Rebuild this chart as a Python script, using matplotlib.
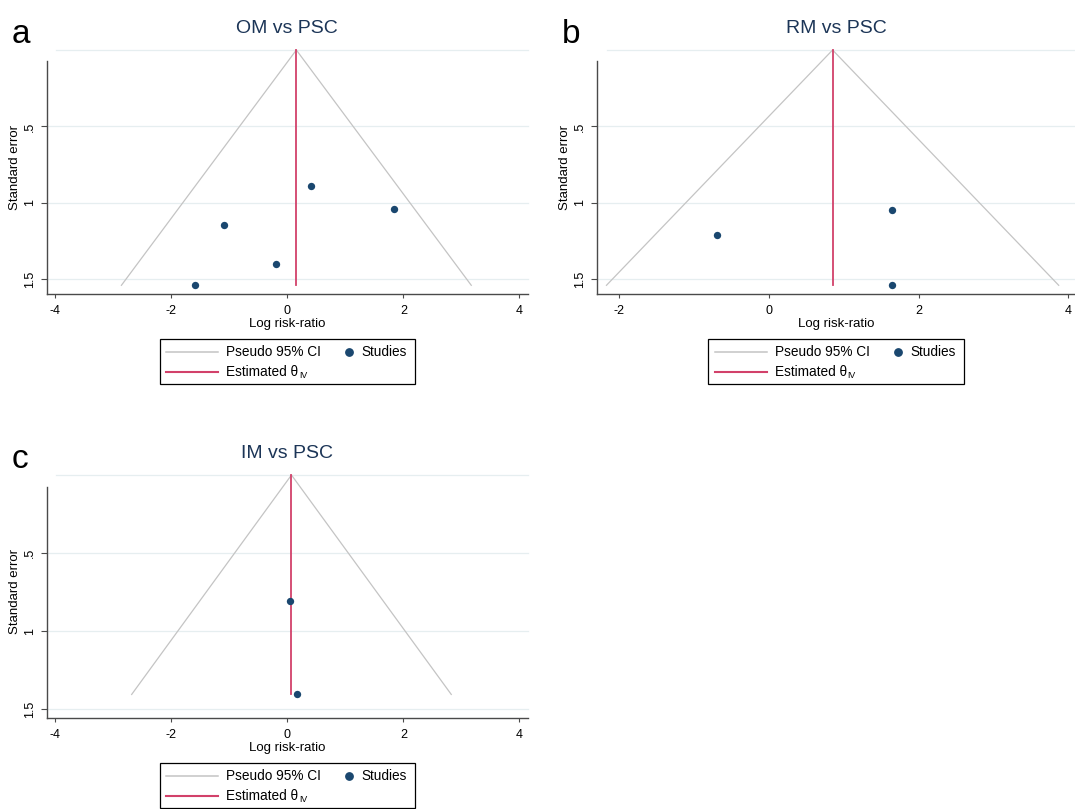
import matplotlib
matplotlib.use("Agg")
import matplotlib.pyplot as plt
from matplotlib.lines import Line2D
from matplotlib.patches import Rectangle

plt.rcParams["font.family"] = ["Liberation Sans", "DejaVu Sans"]
plt.rcParams["axes.unicode_minus"] = False

# funnel plot data: log risk-ratio and standard error per study, plus pooled IV estimate
OM_LOGRR = [0.404, 1.842, -1.10, -0.19, -1.60]
OM_SE = [0.887, 1.038, 1.145, 1.402, 1.539]
OM_THETA = 0.155

RM_LOGRR = [1.65, -0.695, 1.65]
RM_SE = [1.048, 1.210, 1.539]
RM_THETA = 0.853

IM_LOGRR = [0.042, 0.16]
IM_SE = [0.809, 1.406]
IM_THETA = 0.071

XTICKS_WIDE = [-4, -2, 0, 2, 4]
XTICKS_B = [-2, 0, 2, 4]
YTICKS = [0.5, 1, 1.5]
YTICKLABELS = [".5", "1", "1.5"]
GRID_SE = [0, 0.5, 1, 1.5]

NAVY, TITLE_C, CI_C, EST_C, GRID_C, AXIS_C = "#1a476f", "#1c3557", "#c4c4c4", "#d2416a", "#e6eef0", "#4a4a4a"
W, H = 1075, 809

fig = plt.figure(figsize=(W / 100, H / 100), dpi=100, facecolor="white")


def fx(x):
    return x / W


def fy(y):
    return 1 - y / H


def add_panel(left, top, right, bottom):
    return fig.add_axes([fx(left), fy(bottom), (right - left) / W, (bottom - top) / H])


def stata_legend(ax, cx, by):
    fig.add_artist(Rectangle((fx(cx - 127.5), fy(by + 90)), 255.5 / W, 44.7 / H,
                             transform=fig.transFigure, fill=False, ec="black", lw=0.9))
    r1, r2 = by + 58.3, by + 77.7
    fig.add_artist(Line2D([fx(cx - 121.5), fx(cx - 69.5)], [fy(r1)] * 2, color=CI_C, lw=1.1,
                          transform=fig.transFigure))
    fig.text(fx(cx - 61), fy(r1), "Pseudo 95% CI", va="center", ha="left", fontsize=9.8)
    fig.add_artist(Line2D([fx(cx + 62)], [fy(r1)], marker="o", ms=5.3, color=NAVY, ls="none",
                          transform=fig.transFigure))
    fig.text(fx(cx + 74), fy(r1), "Studies", va="center", ha="left", fontsize=9.8)
    fig.add_artist(Line2D([fx(cx - 121.5), fx(cx - 69.5)], [fy(r2)] * 2, color=EST_C, lw=1.5,
                          transform=fig.transFigure))
    t = fig.text(fx(cx - 61), fy(r2), "Estimated θ", va="center", ha="left", fontsize=9.8)
    ax.annotate("IV", xy=(1, 0), xycoords=t, xytext=(0.3, -1.2), textcoords="offset points",
                fontsize=6.3, ha="left", va="bottom", annotation_clip=False)


def funnel(box, letter, title, logrr, se, theta, xlim, ybottom, xticks):
    left, top, right, bottom = box
    ax = add_panel(left, top, right, bottom)
    se_max = max(se)
    ax.set_xlim(xlim)
    ax.set_ylim(ybottom, 0)
    for g in GRID_SE:
        ax.axhline(g, color=GRID_C, lw=0.9, zorder=0, xmin=0.02 if g == 0 else 0, clip_on=False)
    ax.plot([theta - 1.96 * se_max, theta, theta + 1.96 * se_max], [se_max, 0, se_max],
            color=CI_C, lw=0.9, zorder=2, clip_on=False)
    ax.plot([theta, theta], [0, se_max], color=EST_C, lw=1.3, zorder=3, clip_on=False)
    ax.scatter(logrr, se, s=28, color=NAVY, linewidths=0, zorder=4, clip_on=False)

    for s in ["top", "right"]:
        ax.spines[s].set_visible(False)
    for s in ["left", "bottom"]:
        ax.spines[s].set_color(AXIS_C)
        ax.spines[s].set_linewidth(1.0)
    ax.spines["left"].set_bounds(ybottom, 0.075)

    ax.set_xticks(xticks)
    ax.set_xticklabels([f"{v:g}" for v in xticks])
    ax.set_yticks(YTICKS)
    ax.set_yticklabels(YTICKLABELS, rotation=90, va="center")
    ax.tick_params(axis="x", length=3.2, width=0.8, color=AXIS_C, pad=4.5, labelsize=9)
    ax.tick_params(axis="y", length=4.5, width=0.8, color=AXIS_C, pad=3.5, labelsize=9)

    h = bottom - top
    ax.set_xlabel("Log risk-ratio", fontsize=9.5, va="center")
    ax.xaxis.set_label_coords(0.5, -30 / h)
    ax.set_ylabel("Standard error", fontsize=9.5, va="center")
    ax.yaxis.set_label_coords(-31.7 / (right - left), 1 - 117 / h)

    ax.text(0.5, 1 + 21.7 / h, title, transform=ax.transAxes, ha="center", va="center",
            fontsize=14, color=TITLE_C)
    fig.text(fx(left - 35), fy(top - 7), letter, ha="left", va="baseline", fontsize=24)
    stata_legend(ax, (left + right) / 2, bottom)
    return ax


funnel((46.7, 50, 528, 294), "a", "OM vs PSC", OM_LOGRR, OM_SE, OM_THETA, (-4.15, 4.15), 1.596, XTICKS_WIDE)
funnel((597, 50, 1075, 294), "b", "RM vs PSC", RM_LOGRR, RM_SE, RM_THETA, (-2.29, 4.087), 1.596, XTICKS_B)
funnel((46.7, 475, 528, 718), "c", "IM vs PSC", IM_LOGRR, IM_SE, IM_THETA, (-4.15, 4.15), 1.557, XTICKS_WIDE)

fig.savefig("out.png", dpi=100, facecolor="white")
